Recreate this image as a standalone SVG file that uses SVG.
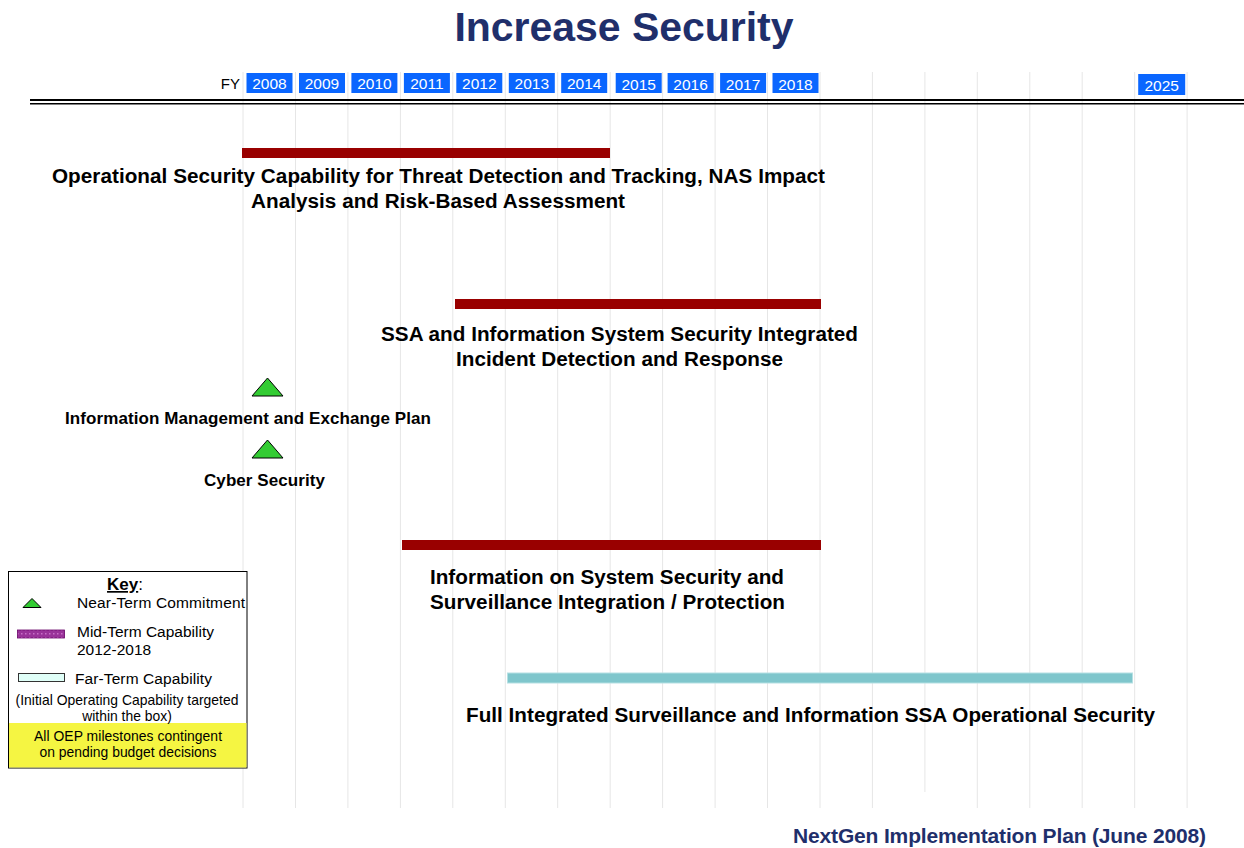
<svg xmlns="http://www.w3.org/2000/svg" width="1244" height="848" viewBox="0 0 1244 848">
<defs>
<style>
text{font-family:"Liberation Sans",Arial,sans-serif}
.grid{stroke:#e6e6e6;stroke-width:1}
.yr{fill:#0a66ff}
.yt{fill:#fff;font-size:15.5px;text-anchor:middle}
.lbl{font-size:20.7px;font-weight:bold;fill:#000;text-anchor:middle}
.lbs{font-size:17px;font-weight:bold;fill:#000;text-anchor:middle}
.mid{fill:#990000}
.far{fill:#7fc6cc;stroke:#b5e0e3;stroke-width:1}
.tri{fill:#33cc33;stroke:#000;stroke-width:1}
.key{font-size:15.5px;fill:#000}
.keys{font-size:13.9px;fill:#000;text-anchor:middle}
.navy{fill:#1f2f6b;font-weight:bold}
</style>
<pattern id="pp" width="4" height="4" patternUnits="userSpaceOnUse">
<rect width="4" height="4" fill="#993399"/>
<rect x="1" y="1" width="1.5" height="1.5" fill="#c86ec8"/>
</pattern>
</defs>
<rect width="1244" height="848" fill="#fff"/>
<text x="624" y="41" text-anchor="middle" font-size="41" class="navy" textLength="339">Increase Security</text>
<g id="grid">
<line class="grid" x1="243" y1="72" x2="243" y2="808"/>
<line class="grid" x1="295.5" y1="72" x2="295.5" y2="808"/>
<line class="grid" x1="347.9" y1="72" x2="347.9" y2="808"/>
<line class="grid" x1="400.4" y1="72" x2="400.4" y2="808"/>
<line class="grid" x1="452.8" y1="72" x2="452.8" y2="808"/>
<line class="grid" x1="505.3" y1="72" x2="505.3" y2="808"/>
<line class="grid" x1="557.7" y1="72" x2="557.7" y2="808"/>
<line class="grid" x1="610.2" y1="72" x2="610.2" y2="808"/>
<line class="grid" x1="662.6" y1="72" x2="662.6" y2="808"/>
<line class="grid" x1="715.1" y1="72" x2="715.1" y2="808"/>
<line class="grid" x1="767.5" y1="72" x2="767.5" y2="808"/>
<line class="grid" x1="820" y1="72" x2="820" y2="808"/>
<line class="grid" x1="872.4" y1="72" x2="872.4" y2="808"/>
<line class="grid" x1="924.9" y1="72" x2="924.9" y2="792"/>
<line class="grid" x1="977.3" y1="72" x2="977.3" y2="808"/>
<line class="grid" x1="1029.8" y1="72" x2="1029.8" y2="808"/>
<line class="grid" x1="1082.2" y1="72" x2="1082.2" y2="808"/>
<line class="grid" x1="1134.7" y1="72" x2="1134.7" y2="808"/>
<line class="grid" x1="1187.1" y1="72" x2="1187.1" y2="808"/>
</g>
<g id="axis">
<line x1="30" y1="100" x2="1244" y2="100" stroke="#000" stroke-width="2"/>
<line x1="30" y1="103.8" x2="1244" y2="103.8" stroke="#000" stroke-width="1.6"/>
<text x="240" y="89" text-anchor="end" font-size="15" fill="#000">FY</text>
<rect class="yr" x="246.5" y="73" width="46" height="20"/><text class="yt" x="269.5" y="89">2008</text>
<rect class="yr" x="299" y="73" width="46" height="20"/><text class="yt" x="322" y="89">2009</text>
<rect class="yr" x="351.4" y="73" width="46" height="20"/><text class="yt" x="374.4" y="89">2010</text>
<rect class="yr" x="403.9" y="73" width="46" height="20"/><text class="yt" x="426.9" y="89">2011</text>
<rect class="yr" x="456.3" y="73" width="46" height="20"/><text class="yt" x="479.3" y="89">2012</text>
<rect class="yr" x="508.8" y="73" width="46" height="20"/><text class="yt" x="531.8" y="89">2013</text>
<rect class="yr" x="561.2" y="73" width="46" height="20"/><text class="yt" x="584.2" y="89">2014</text>
<rect class="yr" x="615.7" y="73" width="46" height="20"/><text class="yt" x="638.7" y="90">2015</text>
<rect class="yr" x="667.6" y="73" width="46" height="20"/><text class="yt" x="690.6" y="90">2016</text>
<rect class="yr" x="720.1" y="73" width="46" height="20"/><text class="yt" x="743.1" y="90">2017</text>
<rect class="yr" x="772.5" y="73" width="46" height="20"/><text class="yt" x="795.5" y="90">2018</text>
<rect class="yr" x="1138.2" y="74" width="47" height="21"/><text class="yt" x="1161.7" y="91">2025</text>
</g>
<g id="connectors"></g>
<g id="bar1">
<rect class="mid" x="242" y="148" width="368" height="10"/>
<text class="lbl" x="438.5" y="183" textLength="773">Operational Security Capability for Threat Detection and Tracking, NAS Impact</text>
<text class="lbl" x="438" y="208" textLength="374">Analysis and Risk-Based Assessment</text>
</g>
<g id="bar2">
<rect class="mid" x="455" y="299" width="366" height="10"/>
<text class="lbl" x="619.5" y="341" textLength="477">SSA and Information System Security Integrated</text>
<text class="lbl" x="619.5" y="366" textLength="327">Incident Detection and Response</text>
</g>
<g id="ms1">
<polygon class="tri" points="267.5,378 283,396 252,396"/>
<text class="lbs" x="248" y="424" textLength="366">Information Management and Exchange Plan</text>
</g>
<g id="ms2">
<polygon class="tri" points="267.5,440 283,458 252,458"/>
<text class="lbs" x="264.5" y="486" textLength="121">Cyber Security</text>
</g>
<g id="bar3">
<rect class="mid" x="402" y="540" width="419" height="10"/>
<text class="lbl" x="430" y="584" style="text-anchor:start" textLength="354">Information on System Security and</text>
<text class="lbl" x="430" y="609" style="text-anchor:start" textLength="355">Surveillance Integration / Protection</text>
</g>
<g id="bar4">
<rect class="far" x="507.5" y="673" width="625" height="10"/>
<text class="lbl" x="810.5" y="722" textLength="689">Full Integrated Surveillance and Information SSA Operational Security</text>
</g>
<g id="key">
<rect x="8.5" y="571.5" width="238.5" height="196.5" fill="#fff" stroke="#000" stroke-width="1"/>
<rect x="9" y="723" width="237.5" height="44.5" fill="#f5f542"/>
<text x="125" y="590" font-size="17" font-weight="bold" text-anchor="middle" fill="#000"><tspan text-decoration="underline">Key</tspan><tspan font-weight="normal">:</tspan></text>
<polygon class="tri" points="32,598.5 41,607.5 23,607.5"/>
<text class="key" x="77" y="608" textLength="168">Near-Term Commitment</text>
<rect x="17.5" y="630" width="47" height="8" fill="url(#pp)" stroke="#660066" stroke-width="0.8"/>
<text class="key" x="77" y="637" textLength="137">Mid-Term Capability</text>
<text class="key" x="77" y="655">2012-2018</text>
<rect x="18.5" y="673.5" width="46" height="8" fill="#e0fff8" stroke="#333" stroke-width="1"/>
<text class="key" x="75" y="684" textLength="137">Far-Term Capability</text>
<text class="keys" x="127" y="705" textLength="223">(Initial Operating Capability targeted</text>
<text class="keys" x="127" y="721">within the box)</text>
<text class="keys" x="128" y="741" textLength="188">All OEP milestones contingent</text>
<text class="keys" x="128" y="757">on pending budget decisions</text>
</g>
<text x="1206" y="843" text-anchor="end" font-size="21" class="navy" textLength="413">NextGen Implementation Plan (June 2008)</text>
</svg>
